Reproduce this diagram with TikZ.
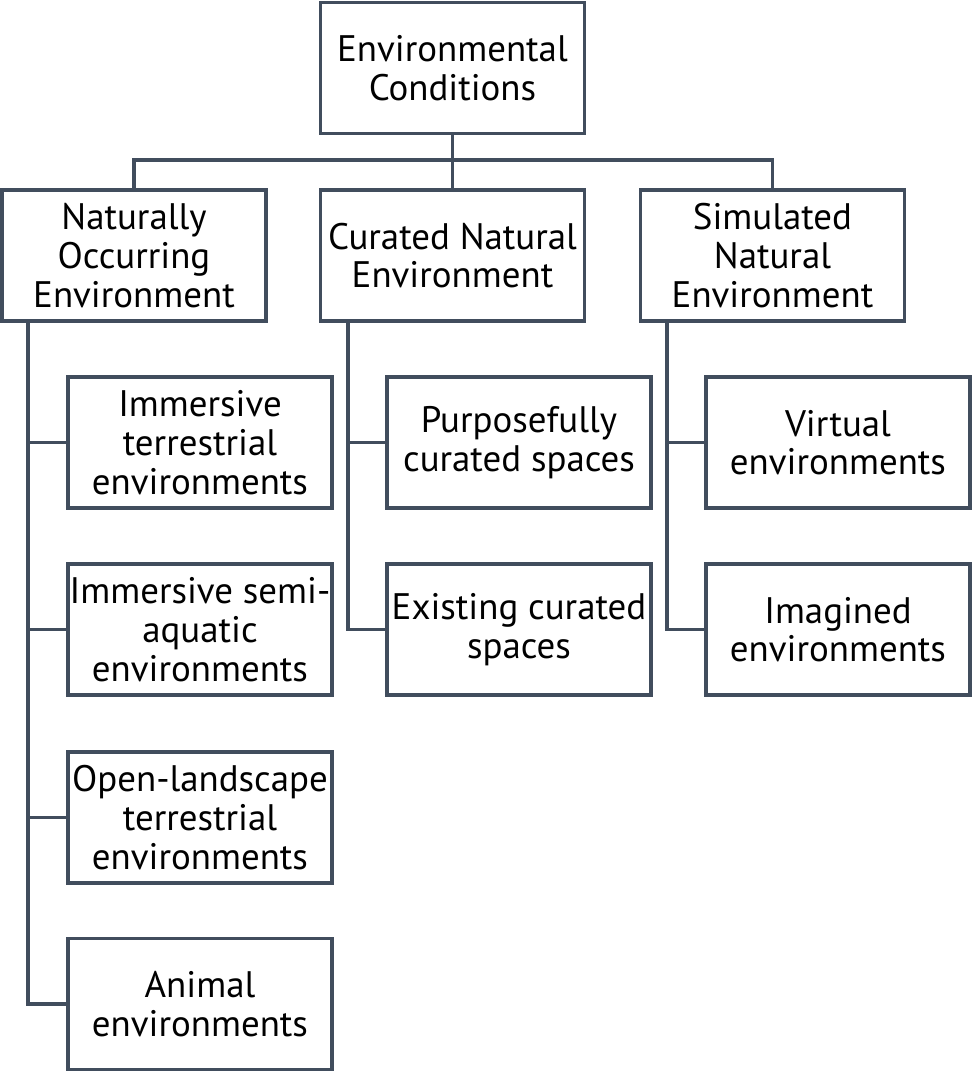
\documentclass[tikz,border=0pt]{standalone}
\usepackage{fontspec}
\setmainfont{PT Sans}
\definecolor{boxline}{HTML}{414D5D}
\newcommand*{\busy}{160}
\newcommand*{\colN}{200}
\newcommand*{\colC}{519}
\newcommand*{\colS}{838}

\begin{document}
\begin{tikzpicture}
[
	box/.style={draw=boxline,line width=2pt,minimum width=5.28cm,minimum height=2.62cm,inner sep=0pt,align=center,font=\fontsize{21}{22}\selectfont},
	link/.style={draw=boxline,line width=2pt},
	x=0.02cm,
	y=-0.02cm
]
	\useasboundingbox (0,0) rectangle (972,1073);

	% top level
	\node[box] (cond) at (452.5,68) {Environmental\\Conditions};

	% second level
	\node[box] (nat) at (134,255.5) {Naturally\\Occurring\\Environment};
	\node[box] (cur) at (452.5,255.5) {Curated Natural\\Environment};
	\node[box] (sim) at (772.5,255.5) {Simulated\\Natural\\Environment};

	% naturally occurring
	\node[box] (imterr) at (\colN,442.5) {Immersive\\terrestrial\\environments};
	\node[box] (imsemi) at (\colN,629.5) {Immersive semi-\\aquatic\\environments};
	\node[box] (openterr) at (\colN,817.5) {Open-landscape\\terrestrial\\environments};
	\node[box] (animal) at (\colN,1004) {Animal\\environments};

	% curated
	\node[box] (purpose) at (\colC,442.5) {Purposefully\\curated spaces};
	\node[box] (existing) at (\colC,629.5) {Existing curated\\spaces};

	% simulated
	\node[box] (virtual) at (\colS,442.5) {Virtual\\environments};
	\node[box] (imagined) at (\colS,629.5) {Imagined\\environments};

	% bus below the top box
	\coordinate (bus) at (0,\busy);
	\draw[link] (cond.south) -- (cur.north);
	\draw[link] (nat.north) -- (nat.north |- bus) -- (sim.north |- bus) -- (sim.north);

	% trunks
	\coordinate (trunkN) at (28,0);
	\coordinate (trunkC) at (348,0);
	\coordinate (trunkS) at (667,0);
	\draw[link] (nat.south -| trunkN) |- (animal.west);
	\draw[link] (cur.south -| trunkC) |- (existing.west);
	\draw[link] (sim.south -| trunkS) |- (imagined.west);
	\foreach \c in {imterr,imsemi,openterr} {
		\draw[link] (\c.west) -- (\c.west -| trunkN);
	}
	\draw[link] (purpose.west) -- (purpose.west -| trunkC);
	\draw[link] (virtual.west) -- (virtual.west -| trunkS);

\end{tikzpicture}
\end{document}
